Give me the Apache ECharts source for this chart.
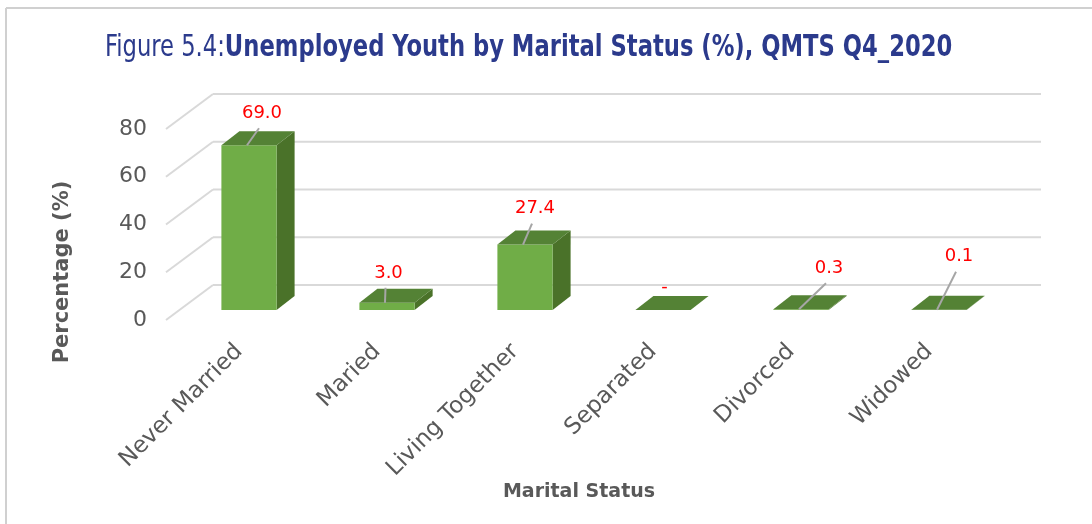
<!DOCTYPE html>
<html>
<head>
<meta charset="utf-8">
<script src="https://cdn.jsdelivr.net/npm/echarts@6/dist/echarts.min.js"></script>
<style>
  html, body { margin: 0; padding: 0; background: #fff; }
  #chart { width: 1092px; height: 524px; }
</style>
</head>
<body>
<div id="chart"></div>
<script>
const categories = ['Never Married', 'Maried', 'Living Together', 'Separated', 'Divorced', 'Widowed']
const values = [69.0, 3.0, 27.4, 0, 0.3, 0.1]
const yTicks = [0, 20, 40, 60, 80]
// label offsets from the bar's top front edge, placed by hand in the source chart
const labelNudge = [[13, -32], [1.5, -30], [10, -36], [1.5, -23], [28, -41], [20, -53]]

// fake 3d: shifts from the bar plane
const DEPTH = [18, -14]
const WALL = [33, -25]
const FLOOR = [-14, 10]

const gridColor = '#d9d9d9'
const textFont = '"DejaVu Sans", sans-serif'
const titleFont = '"Liberation Sans Narrow", "DejaVu Sans Condensed", sans-serif'

// back wall + left wall lines, and the tick labels sitting on the front floor edge
function renderGrid(params, api) {
  const cs = params.coordSys
  const v = api.value(1)
  const y = api.coord([0, v])[1]
  const left = cs.x
  const style = { stroke: gridColor, lineWidth: 2 }
  return {
    type: 'group',
    children: [
      { type: 'line', shape: { x1: left + FLOOR[0], y1: y + FLOOR[1], x2: left + WALL[0], y2: y + WALL[1] }, style },
      { type: 'line', shape: { x1: left + WALL[0], y1: y + WALL[1], x2: cs.x + cs.width + WALL[0], y2: y + WALL[1] }, style },
      {
        type: 'text',
        x: left + FLOOR[0] - 19,
        y: y + FLOOR[1],
        style: { text: String(v), fill: '#595959', font: '22px ' + textFont, align: 'right', verticalAlign: 'middle' },
      },
    ],
  }
}

function renderBar(params, api) {
  const i = api.value(0)
  const v = api.value(1)
  const base = api.coord([i, 0])
  const top = api.coord([i, v])
  const w = api.size([1, 0])[0] * 0.4
  const x0 = base[0] - w / 2
  const x1 = base[0] + w / 2
  const [dx, dy] = DEPTH
  const children = [
    {
      type: 'polygon',
      shape: { points: [[x1, top[1]], [x1 + dx, top[1] + dy], [x1 + dx, base[1] + dy], [x1, base[1]]] },
      style: { fill: '#4a7229' },
    },
    {
      type: 'rect',
      shape: { x: x0, y: top[1], width: w, height: base[1] - top[1] },
      style: { fill: '#70ad47' },
    },
    {
      type: 'polygon',
      shape: { points: [[x0, top[1]], [x1, top[1]], [x1 + dx, top[1] + dy], [x0 + dx, top[1] + dy]] },
      style: { fill: '#548235' },
    },
  ]
  const nudge = labelNudge[params.dataIndex]
  const lx = base[0] + nudge[0]
  const ly = top[1] + nudge[1]
  if (v !== 0) {
    children.push({
      type: 'line',
      shape: { x1: base[0] - 2, y1: top[1], x2: lx - 3, y2: ly + 15 },
      style: { stroke: '#a6a6a6', lineWidth: 2 },
    })
  }
  children.push({
    type: 'text',
    x: lx,
    y: ly,
    style: {
      text: v === 0 ? '-' : v.toFixed(1),
      fill: '#ff0000',
      font: '18px ' + textFont,
      align: 'center',
      verticalAlign: 'middle',
    },
  })
  return { type: 'group', children }
}

const myChart = echarts.init(document.getElementById('chart'))
myChart.setOption({
  backgroundColor: '#fff',
  animation: false,
  graphic: [
    { type: 'line', shape: { x1: 6, y1: 8, x2: 1092, y2: 8 }, style: { stroke: '#d0d0d0', lineWidth: 2 } },
    { type: 'line', shape: { x1: 6, y1: 8, x2: 6, y2: 524 }, style: { stroke: '#d0d0d0', lineWidth: 2 } },
    {
      type: 'text',
      x: 105,
      y: 48,
      scaleX: 0.84,
      style: {
        text: '{a|Figure 5.4:}{b|Unemployed Youth by Marital Status (%), QMTS Q4_2020}',
        verticalAlign: 'middle',
        rich: {
          a: { fontFamily: titleFont, fontSize: 30, fontWeight: 'normal', fill: '#2b3a8c' },
          b: { fontFamily: titleFont, fontSize: 30, fontWeight: 'bold', fill: '#2b3a8c' },
        },
      },
    },
    {
      type: 'text',
      x: 63,
      y: 272,
      rotation: Math.PI / 2,
      style: { text: 'Percentage (%)', font: 'bold 21px ' + textFont, fill: '#595959', align: 'center', verticalAlign: 'middle' },
    },
    {
      type: 'text',
      x: 579,
      y: 492,
      style: { text: 'Marital Status', font: 'bold 19px ' + textFont, fill: '#595959', align: 'center', verticalAlign: 'middle' },
    },
  ],
  grid: { left: 180, right: 84, top: 119, bottom: 214, containLabel: false },
  xAxis: {
    type: 'category',
    data: categories,
    axisLine: { show: false },
    axisTick: { show: false },
    axisLabel: {
      interval: 0,
      rotate: 45,
      margin: 28,
      padding: [0, 14, 0, 0],
      color: '#595959',
      fontSize: 23,
      fontFamily: textFont,
    },
  },
  yAxis: {
    type: 'value',
    min: 0,
    max: 80,
    interval: 20,
    axisLine: { show: false },
    axisTick: { show: false },
    splitLine: { show: false },
    axisLabel: { show: false },
  },
  series: [
    {
      type: 'custom',
      renderItem: renderGrid,
      encode: { x: 0, y: 1 },
      data: yTicks.map((t) => [0, t]),
      silent: true,
      z: 1,
    },
    {
      type: 'custom',
      renderItem: renderBar,
      encode: { x: 0, y: 1 },
      data: values.map((v, i) => [i, v]),
      z: 2,
    },
  ],
})
</script>
</body>
</html>
